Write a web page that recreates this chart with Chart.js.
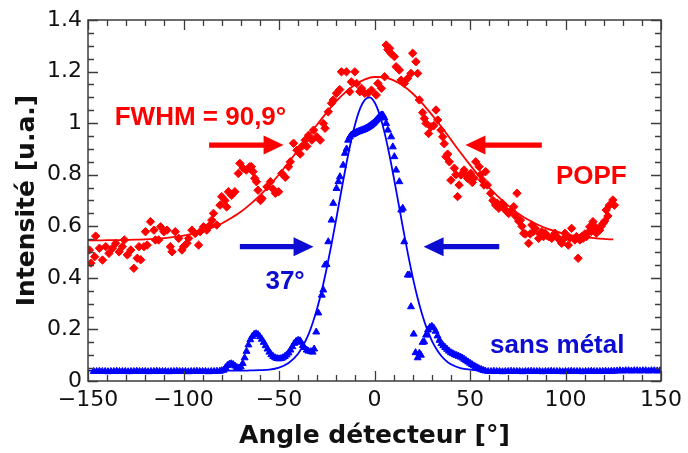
<!DOCTYPE html>
<html>
<head>
<meta charset="utf-8">
<script src="https://cdn.jsdelivr.net/npm/chart.js@4.4.1/dist/chart.umd.min.js"></script>
<style>
  html, body { margin: 0; padding: 0; background: #fff; }
</style>
</head>
<body>
<canvas id="chart" width="688" height="453"></canvas>
<script>
// POPF : angle détecteur [°], intensité [u.a.]
const popfPoints = [
  [-149.3,0.508],[-148.5,0.457],[-146.5,0.482],[-146.0,0.562],[-144.0,0.515],[-142.4,0.469],[-140.7,0.521],
  [-139.0,0.495],[-137.2,0.515],[-135.5,0.534],[-133.7,0.501],[-132.0,0.521],[-131.0,0.547],[-129.4,0.489],
  [-127.6,0.508],[-126.0,0.437],[-124.2,0.476],[-123.3,0.521],[-122.4,0.470],[-120.7,0.521],[-119.9,0.579],
  [-119.0,0.527],[-117.3,0.618],[-115.5,0.585],[-114.7,0.547],[-113.0,0.547],[-112.0,0.598],[-110.3,0.579],
  [-108.6,0.585],[-106.9,0.521],[-106.0,0.501],[-104.3,0.579],[-102.5,0.553],[-100.8,0.508],[-100.0,0.521],
  [-98.2,0.534],[-97.3,0.553],[-95.6,0.585],[-93.9,0.572],[-92.1,0.527],[-91.3,0.579],[-89.5,0.598],
  [-87.8,0.585],[-86.1,0.605],[-85.2,0.624],[-84.3,0.650],[-82.6,0.605],[-80.9,0.682],[-80.0,0.715],
  [-78.3,0.700],[-77.4,0.675],[-76.5,0.734],[-74.8,0.720],[-73.1,0.734],[-71.3,0.805],[-70.5,0.844],
  [-68.8,0.825],[-67.1,0.818],[-65.3,0.831],[-64.5,0.831],[-63.6,0.812],[-62.7,0.786],[-61.8,0.773],
  [-61.0,0.740],[-59.7,0.700],[-58.9,0.708],[-56.3,0.753],[-54.5,0.773],[-53.2,0.745],[-51.9,0.728],
  [-50.2,0.734],[-48.5,0.805],[-46.7,0.790],[-45.0,0.831],[-44.1,0.850],[-42.4,0.922],[-40.6,0.895],
  [-38.9,0.880],[-38.0,0.910],[-36.3,0.934],[-35.4,0.910],[-34.5,0.953],[-32.8,0.934],[-31.9,0.973],
  [-30.2,0.947],[-28.4,0.934],[-26.8,0.999],[-25.9,0.980],[-24.2,1.044],[-22.5,1.077],[-21.6,1.090],
  [-19.9,1.116],[-18.2,1.130],[-17.3,1.199],[-14.7,1.199],[-13.0,1.122],[-12.1,1.160],[-10.3,1.199],
  [-9.4,1.154],[-7.7,1.122],[-6.8,1.135],[-5.1,1.116],[-3.4,1.116],[-1.6,1.128],[0.9,1.109],
  [1.8,1.154],[3.6,1.135],[5.3,1.180],[6.1,1.303],[7.0,1.285],[7.9,1.290],[8.7,1.270],
  [10.4,1.258],[11.3,1.219],[13.0,1.206],[13.9,1.167],[15.6,1.154],[17.3,1.173],[19.1,1.193],
  [20.0,1.271],[21.7,1.238],[22.6,1.193],[23.5,1.090],[25.2,1.041],[26.1,1.018],[27.0,0.999],
  [28.3,0.960],[29.6,0.986],[31.0,0.990],[32.2,1.051],[33.1,1.012],[34.8,0.973],[35.7,0.947],
  [36.5,0.920],[37.4,0.870],[38.3,0.880],[39.2,0.850],[40.0,0.779],[41.8,0.825],[42.6,0.800],
  [43.5,0.715],[44.3,0.760],[45.2,0.799],[46.9,0.818],[47.8,0.800],[48.7,0.786],[50.4,0.805],
  [51.2,0.770],[52.1,0.786],[53.0,0.850],[54.8,0.831],[55.6,0.800],[56.5,0.779],[57.3,0.760],
  [58.2,0.812],[59.1,0.760],[60.8,0.728],[62.0,0.700],[63.4,0.682],[64.2,0.690],[65.1,0.670],
  [66.9,0.689],[67.7,0.680],[68.6,0.663],[69.5,0.655],[70.3,0.650],[71.6,0.660],[72.9,0.676],
  [73.8,0.640],[74.6,0.728],[75.5,0.620],[76.4,0.624],[77.2,0.600],[78.1,0.573],[79.0,0.570],
  [80.7,0.534],[81.5,0.570],[82.4,0.605],[83.3,0.580],[84.2,0.592],[85.9,0.553],[86.7,0.570],
  [87.6,0.579],[88.5,0.560],[89.4,0.573],[90.2,0.565],[91.1,0.560],[92.8,0.553],[93.6,0.560],
  [94.5,0.573],[95.4,0.560],[96.3,0.553],[97.1,0.545],[98.0,0.534],[98.9,0.550],[99.7,0.573],
  [100.6,0.560],[101.5,0.527],[102.3,0.555],[103.2,0.592],[104.9,0.547],[105.7,0.560],[106.6,0.476],
  [107.5,0.547],[108.4,0.560],[109.2,0.553],[110.1,0.570],[111.0,0.560],[111.8,0.575],[112.7,0.598],
  [113.5,0.580],[114.4,0.618],[115.2,0.600],[116.1,0.573],[117.0,0.590],[117.9,0.585],[118.7,0.600],
  [119.6,0.611],[120.5,0.620],[121.3,0.663],[122.2,0.640],[123.0,0.682],[124.8,0.702],[125.6,0.682]
];

// sans métal : angle détecteur [°], intensité [u.a.]
const sansMetalPoints = [
  [-147,0.037],[-145.5,0.037],[-144,0.038],[-142.5,0.037],[-141,0.037],[-139.5,0.036],[-138,0.037],
  [-136.5,0.037],[-135,0.038],[-133.5,0.037],[-132,0.037],[-130.5,0.037],[-129,0.036],[-127.5,0.037],
  [-126,0.037],[-124.5,0.038],[-123,0.037],[-121.5,0.037],[-120,0.037],[-118.5,0.036],[-117,0.037],
  [-115.5,0.037],[-114,0.038],[-112.5,0.037],[-111,0.037],[-109.5,0.037],[-108,0.036],[-106.5,0.037],
  [-105,0.037],[-103.5,0.038],[-102,0.037],[-100.5,0.037],[-99,0.037],[-97.5,0.036],[-96,0.037],
  [-94.5,0.037],[-93,0.038],[-91.5,0.037],[-90,0.037],[-88.5,0.037],[-87,0.036],[-85.5,0.037],
  [-84,0.037],[-82.5,0.038],[-81,0.038],
  [-80,0.040],[-79,0.042],[-78,0.052],[-77,0.060],[-76,0.065],[-75,0.067],[-74,0.064],[-73,0.058],
  [-72,0.052],[-71,0.050],[-70,0.055],[-69,0.068],[-68,0.090],[-67,0.115],[-66,0.140],[-65,0.160],
  [-64,0.173],[-63,0.181],[-62,0.183],[-61,0.180],[-60,0.172],[-59,0.162],[-58,0.150],[-57,0.137],
  [-56,0.124],[-55,0.112],[-54,0.102],[-53,0.095],[-52,0.090],[-51,0.087],[-50,0.086],[-49,0.087],
  [-48,0.090],[-47,0.095],[-46,0.101],[-45,0.109],[-44,0.120],[-43,0.133],[-42,0.146],[-41,0.154],
  [-40,0.158],[-39,0.156],[-38.5,0.150],[-37.5,0.138],[-36.8,0.130],[-35.5,0.120],[-34.6,0.116],
  [-33.3,0.114],[-32.4,0.112],[-31.6,0.124],[-30.5,0.190],[-29.4,0.264],[-27.6,0.333],[-26.8,0.353],
  [-25.9,0.450],[-25.1,0.452],[-24.2,0.540],[-22.5,0.624],[-21.6,0.689],[-19.9,0.747],[-18.9,0.773],
  [-18.1,0.792],[-16.4,0.837],[-15.5,0.883],[-14.6,0.900],[-13.8,0.934],[-12.9,0.947],[-12.1,0.954],
  [-11.5,0.956],[-11,0.958],[-10.5,0.960],[-10,0.962],[-9.5,0.964],[-9,0.966],[-8.5,0.967],
  [-8,0.968],[-7.5,0.970],[-7,0.971],[-6.5,0.972],[-6,0.974],[-5.5,0.975],[-5,0.977],[-4.5,0.979],
  [-4,0.981],[-3.5,0.983],[-3,0.986],[-2.5,0.988],[-2,0.991],[-1.5,0.994],[-1,0.997],[-0.5,1.000],
  [0,1.004],[0.5,1.008],[1,1.012],[1.5,1.016],[2,1.020],[2.5,1.024],[3,1.028],[3.5,1.031],
  [4,1.032],[4.5,1.030],[5.2,1.020],[6.1,0.999],[7.0,0.973],[8.7,0.947],[9.6,0.908],[10.4,0.870],
  [11.3,0.818],[13.0,0.773],[14.0,0.663],[14.8,0.670],[15.6,0.540],[17.4,0.411],[18.2,0.411],
  [19.1,0.288],[20.5,0.182],[21.5,0.110],[22.6,0.090],[23.5,0.108],[24.3,0.100],[25.2,0.150],
  [26,0.152],[27,0.178],[28,0.198],[29,0.208],[30,0.212],[31,0.206],[32,0.193],[33,0.175],
  [34,0.158],[35,0.145],[36,0.137],[37,0.130],[38,0.123],[39,0.116],[40,0.110],[41,0.106],
  [42,0.102],[43,0.099],[44,0.096],[45,0.093],[46,0.089],[47,0.084],[48,0.079],[49,0.074],
  [50,0.069],[51,0.064],[52,0.059],[53,0.055],[54,0.051],[55,0.047],[56,0.044],[57,0.041],[58,0.039],
  [59.5,0.037],[61,0.037],[62.5,0.038],[64,0.037],[65.5,0.037],[67,0.036],[68.5,0.037],[70,0.037],
  [71.5,0.038],[73,0.037],[74.5,0.037],[76,0.037],[77.5,0.036],[79,0.037],[80.5,0.037],[82,0.038],
  [83.5,0.037],[85,0.037],[86.5,0.037],[88,0.036],[89.5,0.037],[91,0.037],[92.5,0.038],[94,0.037],
  [95.5,0.037],[97,0.037],[98.5,0.036],[100,0.037],[101.5,0.037],[103,0.038],[104.5,0.037],[106,0.037],
  [107.5,0.037],[109,0.036],[110.5,0.037],[112,0.037],[113.5,0.038],[115,0.037],[116.5,0.037],[118,0.037],
  [119.5,0.037],[121,0.038],[122.5,0.037],[124,0.038],[125.5,0.038],[127,0.039],[128.5,0.040],[130,0.039],
  [131.5,0.040],[133,0.040],[134.5,0.039],[136,0.040],[137.5,0.040],[139,0.039],[140.5,0.040],[142,0.040],
  [143.5,0.039],[145,0.040],[146.5,0.040],[148,0.039],[149.5,0.040]
];

// ajustements gaussiens
const popfFit = [
  [-150,0.545],[-145,0.545],[-140,0.546],[-135,0.546],[-130,0.547],[-125,0.548],[-120,0.549],[-115,0.551],
  [-110,0.554],[-105,0.559],[-100,0.564],[-95,0.572],[-90,0.582],[-85,0.595],[-80,0.611],[-75,0.632],
  [-70,0.656],[-65,0.686],[-60,0.720],[-55,0.758],[-50,0.801],[-45,0.848],[-40,0.896],[-35,0.946],
  [-30,0.995],[-25,1.042],[-20,1.085],[-15,1.121],[-10,1.150],[-5,1.170],[0,1.179],[5,1.178],
  [10,1.166],[15,1.145],[20,1.115],[25,1.077],[30,1.033],[35,0.986],[40,0.936],[45,0.886],
  [50,0.838],[55,0.792],[60,0.750],[65,0.713],[70,0.680],[75,0.651],[80,0.627],[85,0.608],
  [90,0.592],[95,0.580],[100,0.570],[105,0.563],[110,0.558],[115,0.554],[120,0.551],[125,0.549]
];
const sansMetalFit = [
  [-150,0.040],[-100,0.040],[-80,0.040],[-70,0.040],[-65,0.041],[-60,0.042],[-55,0.044],[-50,0.052],
  [-45,0.070],[-40,0.106],[-35,0.173],[-32.5,0.222],[-30,0.282],[-27.5,0.354],[-25,0.438],[-22.5,0.531],
  [-20,0.630],[-17.5,0.732],[-15,0.832],[-12.5,0.923],[-10,1.000],[-7.5,1.057],[-5,1.091],[-2.5,1.100],
  [0,1.081],[2.5,1.037],[5,0.971],[7.5,0.888],[10,0.793],[12.5,0.692],[15,0.590],[17.5,0.493],
  [20,0.403],[22.5,0.324],[25,0.257],[27.5,0.201],[30,0.157],[32.5,0.123],[35,0.097],[37.5,0.078],
  [40,0.065],[45,0.050],[50,0.044],[55,0.041],[60,0.040],[100,0.040],[150,0.040]
];

const RED = '#ff0000';
const BLUE = '#0000ff';
const BLUE_TXT = '#0c0cd2';

const toXY = arr => arr.map(p => ({x: p[0], y: p[1]}));

// cadre + graduations vers l'intérieur sur les 4 côtés
const cadre = {
  id: 'cadre',
  afterDatasetsDraw(chart) {
    const {ctx, chartArea: a, scales: {x, y}} = chart;
    ctx.save();
    ctx.strokeStyle = '#3c3c3c';
    ctx.lineWidth = 1.5;
    ctx.strokeRect(a.left, a.top, a.right - a.left, a.bottom - a.top);
    ctx.lineWidth = 1.3;
    ctx.beginPath();
    for (let v = -150; v <= 150; v += 10) {
      const px = Math.round(x.getPixelForValue(v)) + 0.5;
      const len = v % 50 === 0 ? 10 : 6;
      ctx.moveTo(px, a.bottom); ctx.lineTo(px, a.bottom - len);
      ctx.moveTo(px, a.top); ctx.lineTo(px, a.top + len);
    }
    for (let i = 0; i <= 28; i++) {
      const py = Math.round(y.getPixelForValue(i * 0.05)) + 0.5;
      const len = i % 4 === 0 ? 10 : 6;
      ctx.moveTo(a.left, py); ctx.lineTo(a.left + len, py);
      ctx.moveTo(a.right, py); ctx.lineTo(a.right - len, py);
    }
    ctx.stroke();
    ctx.restore();
  }
};

function fleche(ctx, x0, x1, y, color) {
  const dir = x1 > x0 ? 1 : -1;
  const head = 20, half = 9.5, shaft = 2.6;
  const xb = x1 - dir * head;
  ctx.fillStyle = color;
  ctx.beginPath();
  ctx.moveTo(x0, y - shaft);
  ctx.lineTo(xb, y - shaft);
  ctx.lineTo(xb, y - half);
  ctx.lineTo(x1, y);
  ctx.lineTo(xb, y + half);
  ctx.lineTo(xb, y + shaft);
  ctx.lineTo(x0, y + shaft);
  ctx.closePath();
  ctx.fill();
}

// textes et flèches (positions en coordonnées du graphe)
const notes = {
  id: 'notes',
  afterDatasetsDraw(chart) {
    const {ctx, scales: {x, y}} = chart;
    ctx.save();
    fleche(ctx, x.getPixelForValue(-86.6), x.getPixelForValue(-47.6), y.getPixelForValue(0.915), RED);
    fleche(ctx, x.getPixelForValue(87.6), x.getPixelForValue(47.6), y.getPixelForValue(0.915), RED);
    fleche(ctx, x.getPixelForValue(-70.5), x.getPixelForValue(-31.9), y.getPixelForValue(0.521), BLUE_TXT);
    fleche(ctx, x.getPixelForValue(65.3), x.getPixelForValue(25.7), y.getPixelForValue(0.521), BLUE_TXT);
    ctx.font = "bold 26px 'Liberation Sans', Arial, sans-serif";
    ctx.textAlign = 'left';
    ctx.textBaseline = 'alphabetic';
    ctx.fillStyle = RED;
    ctx.fillText('FWHM = 90,9°', x.getPixelForValue(-136.0), y.getPixelForValue(0.993));
    ctx.fillText('POPF', x.getPixelForValue(95.0), y.getPixelForValue(0.764));
    ctx.fillStyle = BLUE_TXT;
    ctx.fillText('37°', x.getPixelForValue(-57.1), y.getPixelForValue(0.356));
    ctx.fillText('sans métal', x.getPixelForValue(60.5), y.getPixelForValue(0.107));
    ctx.restore();
  }
};

new Chart(document.getElementById('chart'), {
  type: 'scatter',
  data: {
    datasets: [
      {
        label: 'ajustement sans métal',
        data: toXY(sansMetalFit),
        showLine: true,
        borderColor: BLUE,
        borderWidth: 1.8,
        pointRadius: 0,
        cubicInterpolationMode: 'monotone'
      },
      {
        label: 'ajustement POPF',
        data: toXY(popfFit),
        showLine: true,
        borderColor: RED,
        borderWidth: 1.8,
        pointRadius: 0,
        cubicInterpolationMode: 'monotone'
      },
      {
        label: 'sans métal',
        data: toXY(sansMetalPoints),
        pointStyle: 'triangle',
        pointRadius: 4.0,
        borderWidth: 1,
        backgroundColor: BLUE,
        borderColor: BLUE
      },
      {
        label: 'POPF',
        data: toXY(popfPoints),
        pointStyle: 'rectRot',
        pointRadius: 4.2,
        borderWidth: 1,
        backgroundColor: RED,
        borderColor: RED
      }
    ]
  },
  options: {
    responsive: false,
    animation: false,
    devicePixelRatio: 1,
    layout: { padding: { left: 0, right: 23, top: 20, bottom: 0 } },
    plugins: { legend: { display: false }, tooltip: { enabled: false } },
    scales: {
      x: {
        type: 'linear',
        min: -150,
        max: 150,
        afterFit: s => { s.height = 72; },
        grid: { display: false, drawTicks: false },
        border: { display: false },
        ticks: {
          stepSize: 50,
          padding: 6,
          color: '#111',
          font: { family: "'DejaVu Sans', sans-serif", size: 22 },
          callback: v => String(v).replace('-', '\u2212')
        },
        title: {
          display: true,
          text: 'Angle détecteur [°]',
          color: '#111',
          font: { family: "'DejaVu Sans', sans-serif", size: 25, weight: 'bold' },
          padding: { top: 0, bottom: 2 }
        }
      },
      y: {
        min: 0,
        max: 1.4,
        afterFit: s => { s.width = 88; },
        grid: { display: false, drawTicks: false },
        border: { display: false },
        ticks: {
          stepSize: 0.2,
          padding: 6,
          color: '#111',
          font: { family: "'DejaVu Sans', sans-serif", size: 22 },
          callback: v => String(Number(v.toFixed(1)))
        },
        title: {
          display: true,
          text: 'Intensité [u.a.]',
          color: '#111',
          font: { family: "'DejaVu Sans', sans-serif", size: 25, weight: 'bold' },
          padding: { top: 12, bottom: 0 }
        }
      }
    }
  },
  plugins: [cadre, notes]
});
</script>
</body>
</html>
